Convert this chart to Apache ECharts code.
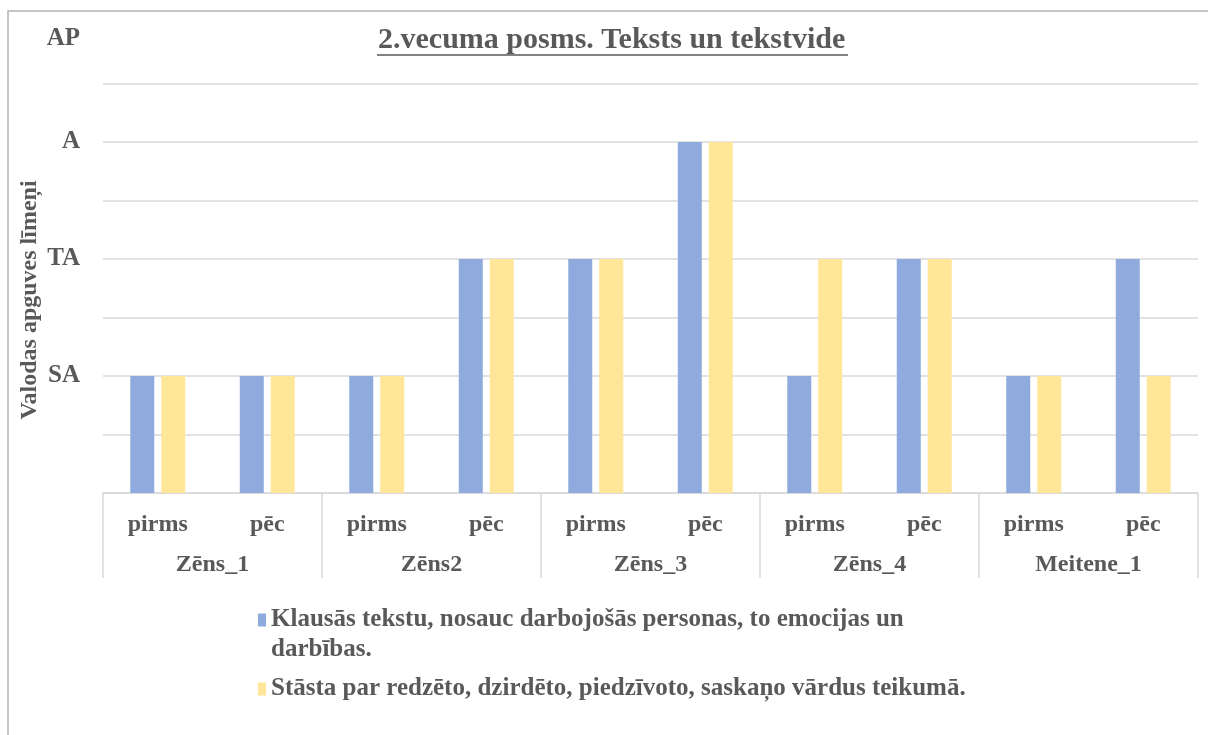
<!DOCTYPE html>
<html>
<head>
<meta charset="utf-8">
<title>2.vecuma posms. Teksts un tekstvide</title>
<script src="https://cdn.jsdelivr.net/npm/echarts@6/dist/echarts.min.js"></script>
<style>
    html, body { margin: 0; padding: 0; background: #fff; }
    #chart { width: 1208px; height: 735px; }
</style>
</head>
<body>
<div id="chart"></div>
<script>
// datu masīvi
const groups = ["Zēns_1", "Zēns2", "Zēns_3", "Zēns_4", "Meitene_1"]
const stages = ["pirms", "pēc"]
const levels = ["", "SA", "TA", "A", "AP"]
const seriesNames = [
    "Klausās tekstu, nosauc darbojošās personas, to emocijas un darbības.",
    "Stāsta par redzēto, dzirdēto, piedzīvoto, saskaņo vārdus teikumā."
]
const klausas = [1, 1, 1, 2, 2, 3, 1, 2, 1, 2]
const stasta = [1, 1, 1, 2, 2, 3, 2, 2, 1, 1]

const categories = []
groups.forEach(function () {
    stages.forEach(function (s) { categories.push(s) })
})

const font = "'Liberation Serif', 'Times New Roman', serif"
const txt = "#595959"
const gridColor = "#d9d9d9"

;(function () {
    let myChart = echarts.init(document.getElementById("chart"))
    let option = {
        animation: false,
        color: ["#8faadc", "#ffe699"],
        title: {
            text: "2.vecuma posms. Teksts un tekstvide",
            left: 378,
            top: 25,
            padding: 0,
            textStyle: { fontFamily: font, fontSize: 30, fontWeight: "bold", color: txt }
        },
        graphic: [
            {
                type: "rect",
                shape: { x: 8, y: 11, width: 1220, height: 740 },
                style: { fill: "none", stroke: "#b3b3b3", lineWidth: 1.5 },
                silent: true
            },
            {
                // pasvītrojums virsrakstam
                type: "line",
                shape: { x1: 377, y1: 55, x2: 848, y2: 55 },
                style: { stroke: txt, lineWidth: 1.5 }
            },
            {
                type: "text",
                x: 30,
                y: 300,
                rotation: Math.PI / 2,
                style: {
                    text: "Valodas apguves līmeņi",
                    fontFamily: font, fontSize: 24, fontWeight: "bold",
                    fill: txt, align: "center", verticalAlign: "middle"
                }
            }
        ],
        legend: [
            {
                data: [seriesNames[0]],
                left: 258,
                top: 575,
                padding: 0,
                icon: "rect",
                itemWidth: 8,
                itemHeight: 13,
                itemGap: 5,
                // tukša pirmā rinda, lai ikona stāv pie pirmās teksta rindas
                formatter: function (name) {
                    return "\n" + name.replace(" un ", " un\n")
                },
                textStyle: {
                    fontFamily: font, fontSize: 25, fontWeight: "bold", color: txt,
                    lineHeight: 30
                }
            },
            {
                data: [seriesNames[1]],
                left: 258,
                top: 674,
                padding: 0,
                icon: "rect",
                itemWidth: 8,
                itemHeight: 13,
                itemGap: 5,
                textStyle: {
                    fontFamily: font, fontSize: 25, fontWeight: "bold", color: txt,
                    lineHeight: 30
                }
            }
        ],
        grid: {
            left: 103,
            right: 10,
            top: 25,
            bottom: 242
        },
        xAxis: [
            {
                type: "category",
                data: categories,
                axisLine: { show: false },
                axisTick: { show: false },
                axisLabel: {
                    interval: 0,
                    margin: 20,
                    fontFamily: font, fontSize: 24, fontWeight: "bold", color: txt
                }
            },
            {
                type: "category",
                data: groups,
                position: "bottom",
                axisLine: { lineStyle: { color: gridColor, width: 1.5 } },
                axisTick: { show: true, interval: 0, length: 85, lineStyle: { color: gridColor, width: 1.5 } },
                axisLabel: {
                    interval: 0,
                    margin: 60,
                    fontFamily: font, fontSize: 24, fontWeight: "bold", color: txt
                }
            }
        ],
        yAxis: {
            type: "value",
            min: 0,
            max: 4,
            interval: 0.5,
            axisLine: { show: false },
            axisTick: { show: false },
            splitLine: {
                showMaxLine: false,
                lineStyle: { color: gridColor, width: 1.5 }
            },
            axisLabel: {
                margin: 23,
                fontFamily: font, fontSize: 25, fontWeight: "bold", color: txt,
                formatter: function (v) {
                    if (v % 1 !== 0) return ""
                    if (v === 4) return "{ap|" + levels[v] + "}"
                    return levels[v]
                },
                rich: {
                    ap: {
                        fontFamily: font, fontSize: 25, fontWeight: "bold", color: txt,
                        padding: [28, 0, 0, 0]
                    }
                }
            }
        },
        series: [
            {
                name: seriesNames[0],
                type: "bar",
                xAxisIndex: 0,
                barWidth: 24,
                barGap: "29%",
                data: klausas
            },
            {
                name: seriesNames[1],
                type: "bar",
                xAxisIndex: 0,
                barWidth: 24,
                barGap: "29%",
                data: stasta
            }
        ]
    }
    myChart.setOption(option)
    window.addEventListener("resize", function () {
        myChart.resize()
    })
})();
</script>
</body>
</html>
